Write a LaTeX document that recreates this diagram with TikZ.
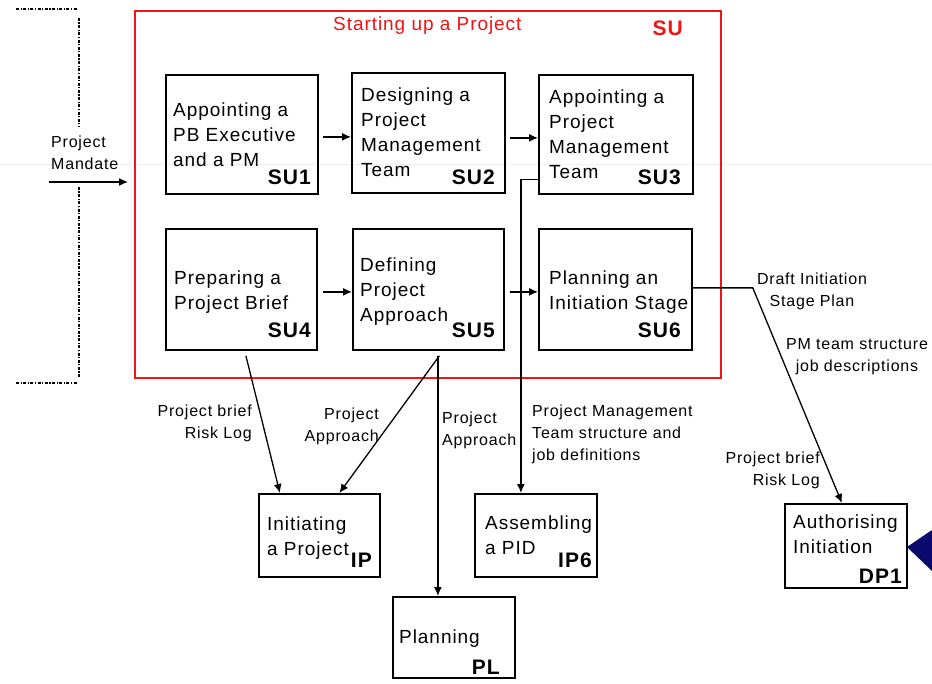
\documentclass[tikz,border=0pt]{standalone}
\usepackage{fontspec}
\setmainfont{Liberation Sans}[LetterSpace=5]
\usetikzlibrary{arrows.meta,calc}
\definecolor{frame}{RGB}{240,20,20}
\definecolor{navy}{RGB}{10,10,110}
\begin{document}
\begin{tikzpicture}[x=1pt,y=-1pt,
  proc/.style={draw=black,line width=1.8pt,inner sep=0pt,anchor=north west},
  btxt/.style={inner sep=0pt,anchor=north west,align=left,font=\fontsize{19}{25}\selectfont},
  code/.style={inner sep=0pt,anchor=base east,font=\fontsize{21}{25}\selectfont\bfseries},
  lbl/.style={inner sep=0pt,font=\fontsize{16}{22}\selectfont},
  conn/.style={draw=black,line width=1.3pt,-{Latex[length=9pt,width=8pt]}},
  dd/.style={draw=black,line width=1.4pt,dash pattern=on 3pt off 1.5pt on 1.2pt off 1.5pt}]
\useasboundingbox (0,0) rectangle (932,684);
\fill[white] (0,0) rectangle (932,684);
\draw[gray!12,line width=0.6pt] (0,164) -- (932,164);

% stage boundary bracket
\draw[dd] (16,9) -- (77,9);
\draw[dd] (79,18) -- (79,127);
\draw[dd] (79,187) -- (79,377);
\draw[dd] (16,383) -- (77,383);

% Starting up frame
\node[proc,draw=frame,minimum width=586pt,minimum height=367pt] (su) at (134,10) {};
\node[inner sep=0pt,anchor=base west,text=frame,font=\fontsize{19}{25}\selectfont] (sutitle) at (333,31) {Starting up a Project};
\node[code,text=frame] (sucode) at (683,36) {SU};

% processes
\node[proc,minimum width=152pt,minimum height=119pt] (su1) at (165,74) {};
\node[proc,minimum width=153pt,minimum height=120pt] (su2) at (351,72) {};
\node[proc,minimum width=154pt,minimum height=119pt] (su3) at (538,74) {};
\node[proc,minimum width=151pt,minimum height=121pt] (su4) at (165,228) {};
\node[proc,minimum width=151pt,minimum height=121pt] (su5) at (352,228) {};
\node[proc,minimum width=153pt,minimum height=121pt] (su6) at (538,228) {};
\node[proc,minimum width=121pt,minimum height=83pt] (ip) at (258,493) {};
\node[proc,minimum width=122pt,minimum height=83pt] (ip6) at (474,493) {};
\node[proc,minimum width=122pt,minimum height=81pt] (pl) at (392,596) {};
\node[proc,minimum width=122pt,minimum height=84pt] (dp1) at (784,503) {};

\node[btxt] (su1t) at (173,103) {Appointing a\\PB Executive\\and a PM};
\node[code] (su1c) at (311,185) {SU1};
\node[btxt] (su2t) at (361,88) {Designing a\\Project\\Management\\Team};
\node[code] (su2c) at (495,185) {SU2};
\node[btxt] (su3t) at (549,90) {Appointing a\\Project\\Management\\Team};
\node[code] (su3c) at (681,185) {SU3};
\node[btxt] (su4t) at (174,271) {Preparing a\\Project Brief};
\node[code] (su4c) at (311,338) {SU4};
\node[btxt] (su5t) at (360,258) {Defining\\Project\\Approach};
\node[code] (su5c) at (495,338) {SU5};
\node[btxt] (su6t) at (549,271) {Planning an\\Initiation Stage};
\node[code] (su6c) at (681,338) {SU6};
\node[btxt] (ipt) at (267,517) {Initiating\\a Project};
\node[code] (ipc) at (372,567) {IP};
\node[btxt] (ip6t) at (485,516) {Assembling\\a PID};
\node[code] (ip6c) at (592,567) {IP6};
\node[btxt] (plt) at (399,630) {Planning};
\node[code] (plc) at (500,674) {PL};
\node[btxt] (dp1t) at (793,515) {Authorising\\Initiation};
\node[code] (dp1c) at (902,583) {DP1};

% labels
\node[lbl,anchor=north west,align=left] (mand) at (51,136) {Project\\Mandate};
\node[lbl,anchor=north east,align=right] (lbrief) at (252,405) {Project brief\\Risk Log};
\node[lbl,anchor=north east,align=right] (lappr) at (379,408) {Project\\Approach};
\node[lbl,anchor=north west,align=left] (lappr2) at (442,412) {Project\\Approach};
\node[lbl,anchor=north west,align=left] (lpmt) at (532,405) {Project Management\\Team structure and\\job definitions};
\node[lbl,anchor=north,align=center] (ldraft) at (812,273) {Draft Initiation\\Stage Plan};
\node[lbl,anchor=north,align=center] (lteam) at (857,338) {PM team structure\\job descriptions};
\node[lbl,anchor=north east,align=right] (lbrief2) at (820,452) {Project brief\\Risk Log};

% flows
\coordinate (mstart) at (49,182);
\coordinate (mend) at (128,182);
\draw[conn] (mstart) -- (mend);
\draw[conn] ([shift={(4,2.5)}]su1.east) -- ([shift={(0,2.5)}]su1.east -| su2.west);
\draw[conn] ([shift={(4,5)}]su2.east) -- ([shift={(0,5)}]su2.east -| su3.west);
\draw[conn] ([shift={(5,2.5)}]su4.east) -- ([shift={(0,2.5)}]su4.east -| su5.west);
\draw[conn] ([shift={(5,2.5)}]su5.east) -- ([shift={(0,2.5)}]su5.east -| su6.west);
\draw[conn] ([yshift=15pt]su3.south west) -| ([xshift=-15pt]ip6.north);
\draw[conn] ([shift={(4.5,5)}]su4.south) -- ([xshift=-39.5pt]ip.north);
\coordinate (s5) at ([shift={(11,5)}]su5.south);
\draw[conn] (s5) -- ([xshift=20pt]ip.north);
\draw[conn] ([xshift=-16pt]pl.north |- s5) -- ([xshift=-16pt]pl.north);
\draw[conn] ([yshift=1.5pt]su6.east) -- ++(60,0) -- ([xshift=-4pt]dp1.north);

% incoming marker
\fill[navy] (907,547) -- (932,530) -- (932,571) -- cycle;
\end{tikzpicture}
\end{document}
